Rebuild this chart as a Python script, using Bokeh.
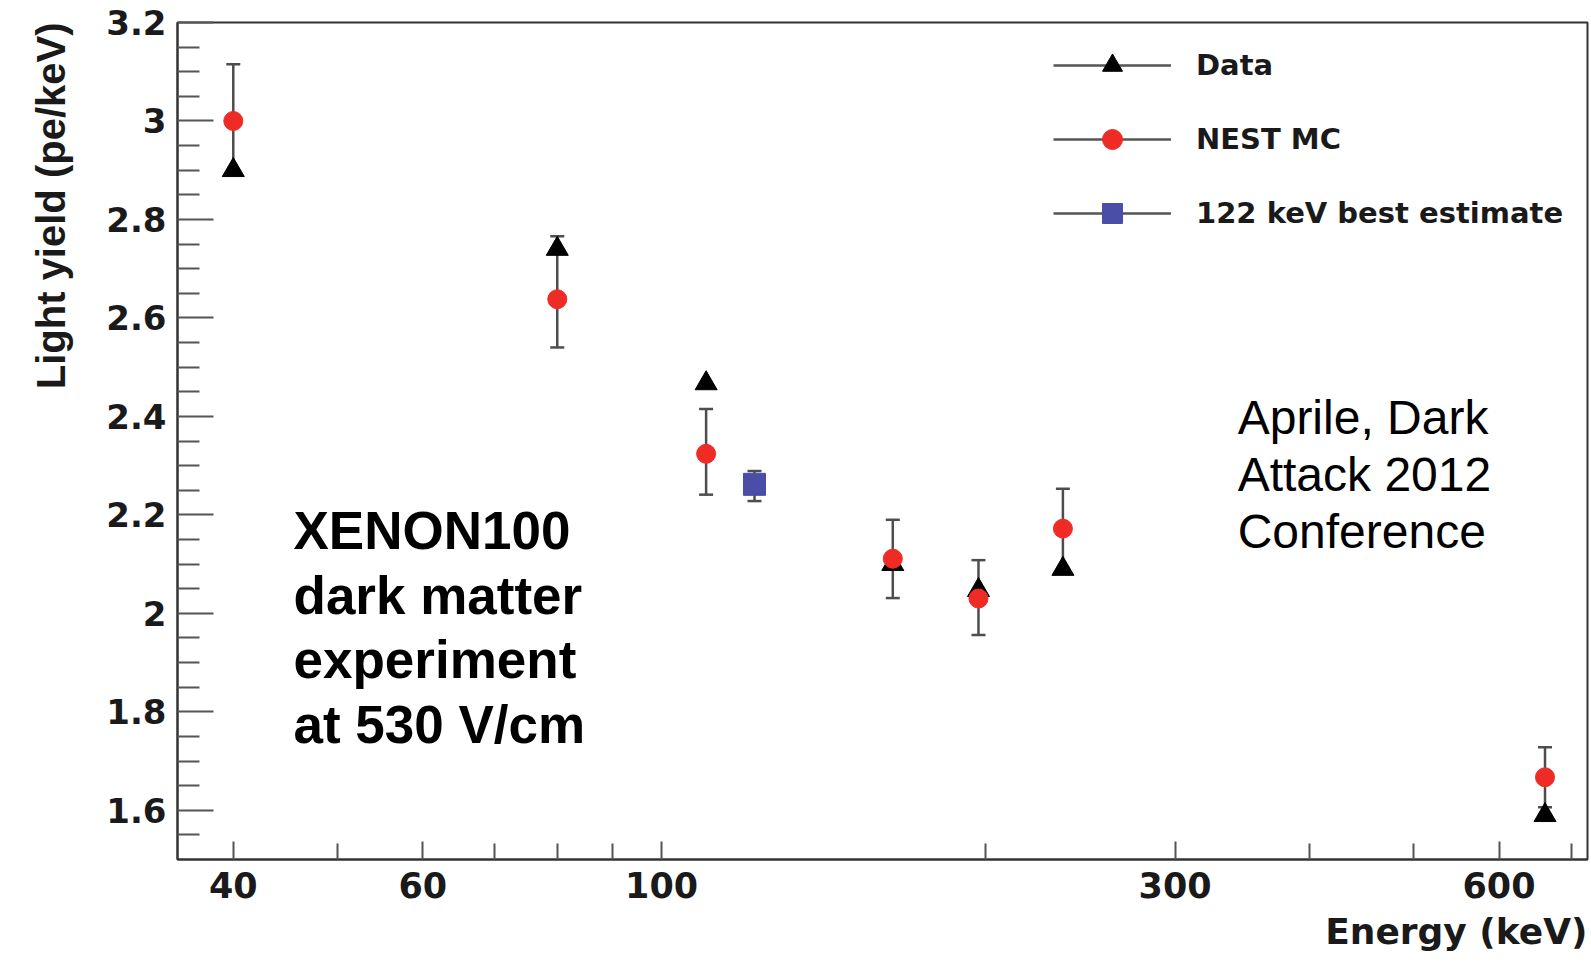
from bokeh.plotting import figure
from bokeh.models import (Range1d, FixedTicker, PrintfTickFormatter, Whisker, TeeHead,
                          ColumnDataSource, Legend, LegendItem, Label, Title)
from bokeh.embed import file_html
from bokeh.resources import INLINE

# ---------------- data ----------------
energy_data = [40, 80, 110, 164, 197, 236, 662]
light_yield_data = [2.90, 2.74, 2.467, 2.10, 2.047, 2.09, 1.59]

energy_nest = [40, 80, 110, 164, 197, 236, 662]
light_yield_nest = [3.0, 2.638, 2.324, 2.111, 2.030, 2.172, 1.667]
nest_err_low = [2.895, 2.54, 2.241, 2.031, 1.956, 2.09, 1.606]
nest_err_high = [3.115, 2.766, 2.415, 2.190, 2.108, 2.253, 1.728]

energy_best = [122]
light_yield_best = [2.262]
best_err_low = [2.228]
best_err_high = [2.289]

x_major_ticks = [40, 60, 100, 300, 600]
x_minor_ticks = [50, 70, 80, 90, 200, 400, 500, 700]
y_major_ticks = [1.6, 1.8, 2.0, 2.2, 2.4, 2.6, 2.8, 3.0, 3.2]
y_minor_ticks = [1.55, 1.65, 1.7, 1.75, 1.85, 1.9, 1.95, 2.05, 2.1, 2.15, 2.25, 2.3,
                 2.35, 2.45, 2.5, 2.55, 2.65, 2.7, 2.75, 2.85, 2.9, 2.95, 3.05, 3.1, 3.15]

legend_labels = ["Data", "NEST MC", "122 keV best estimate"]
xenon_lines = ["XENON100", "dark matter", "experiment", "at 530 V/cm"]
source_lines = ["Aprile, Dark", "Attack 2012", "Conference"]
x_title = "Energy (keV)"
y_title = "Light yield (pe/keV)"

# ---------------- figure ----------------
p = figure(width=1591, height=963, x_axis_type="log",
           x_range=Range1d(35.5, 725), y_range=Range1d(1.5, 3.2),
           output_backend="svg", toolbar_location=None,
           min_border_left=177, min_border_right=4, min_border_top=22, min_border_bottom=103)
p.xgrid.visible = False
p.ygrid.visible = False
p.outline_line_color = "#333333"
p.outline_line_width = 2
p.background_fill_color = "white"
p.border_fill_color = "white"

xa = p.xaxis[0]
ya = p.yaxis[0]
xa.ticker = FixedTicker(ticks=x_major_ticks, minor_ticks=x_minor_ticks)
ya.ticker = FixedTicker(ticks=y_major_ticks, minor_ticks=y_minor_ticks)
xa.formatter = PrintfTickFormatter(format="%d")
ya.formatter = PrintfTickFormatter(format="%g")

for ax in (xa, ya):
    ax.axis_line_color = "#333333"
    ax.axis_line_width = 2
    ax.major_tick_out = 0
    ax.minor_tick_out = 0
    ax.major_tick_line_color = "#555555"
    ax.minor_tick_line_color = "#555555"
    ax.major_tick_line_width = 2
    ax.minor_tick_line_width = 2
    ax.major_label_text_font = "DejaVu Sans"
    ax.major_label_text_font_style = "bold"
    ax.major_label_text_color = "#1a1a1a"

xa.major_label_text_font_size = "35px"
ya.major_label_text_font_size = "34px"
xa.major_tick_in = 18
xa.minor_tick_in = 16
xa.major_label_standoff = 12
ya.major_tick_in = 36
ya.minor_tick_in = 22
ya.major_label_standoff = 11

# axis titles (right / top aligned like the original)
p.add_layout(Title(text=x_title, align="right", offset=0, standoff=20,
                   vertical_align="top",
                   text_font="DejaVu Sans", text_font_style="bold",
                   text_font_size="36px", text_color="#1a1a1a"), "below")
p.add_layout(Title(text=y_title, align="right", offset=0, standoff=57,
                   vertical_align="top",
                   text_font="Liberation Sans", text_font_style="bold",
                   text_font_size="40px", text_color="#1a1a1a"), "left")

# ---------------- error bars ----------------
src_nest = ColumnDataSource(dict(x=energy_nest, y=light_yield_nest,
                                 lower=nest_err_low, upper=nest_err_high))
src_best = ColumnDataSource(dict(x=energy_best, y=light_yield_best,
                                 lower=best_err_low, upper=best_err_high))
src_data = ColumnDataSource(dict(x=energy_data, y=light_yield_data))

err_col = "#4d4d4d"
for src in (src_nest, src_best):
    w = Whisker(source=src, base="x", lower="lower", upper="upper", dimension="height",
                line_color=err_col, line_width=2.5, level="underlay",
                upper_head=TeeHead(size=14, line_color=err_col, line_width=2.5),
                lower_head=TeeHead(size=14, line_color=err_col, line_width=2.5))
    p.add_layout(w)

# ---------------- markers ----------------
r_data = p.scatter("x", "y", source=src_data, marker="triangle", size=22,
                   fill_color="black", line_color="black")
r_nest = p.scatter("x", "y", source=src_nest, marker="circle", size=19,
                   fill_color="#ee2b24", line_color="#ee2b24")
r_best = p.scatter("x", "y", source=src_best, marker="square", size=22,
                   fill_color="#4a4ea6", line_color="#4a4ea6")

# legend line samples (a single NaN point: nothing drawn in the plot)
nan = float("nan")
leg_lines = [p.line(x=[nan], y=[nan], line_color="#555555", line_width=2.5) for _ in range(3)]

legend = Legend(items=[
    LegendItem(label=legend_labels[0], renderers=[leg_lines[0], r_data]),
    LegendItem(label=legend_labels[1], renderers=[leg_lines[1], r_nest]),
    LegendItem(label=legend_labels[2], renderers=[leg_lines[2], r_best]),
], location=(876, 621), padding=0, margin=0, spacing=24,
   glyph_width=118, glyph_height=50, label_height=50, label_standoff=25,
   label_text_font="DejaVu Sans", label_text_font_style="bold",
   label_text_font_size="29px", label_text_color="#1a1a1a",
   border_line_alpha=0, background_fill_alpha=0)
p.add_layout(legend)

# ---------------- annotations ----------------
xen_y = [2.169, 2.037, 1.906, 1.774]
for t, yy in zip(xenon_lines, xen_y):
    p.add_layout(Label(x=45.5, y=yy, text=t, text_font="Liberation Sans",
                       text_font_style="bold", text_font_size="53px",
                       text_color="black", text_baseline="alphabetic"))

src_y = [2.397, 2.282, 2.166]
for t, yy in zip(source_lines, src_y):
    p.add_layout(Label(x=343, y=yy, text=t, text_font="Liberation Sans",
                       text_font_size="48px", text_color="black",
                       text_baseline="alphabetic"))

open("out.html", "w").write(file_html(p, INLINE))
